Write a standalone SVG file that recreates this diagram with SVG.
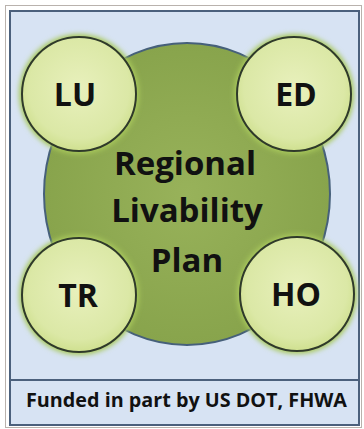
<svg xmlns="http://www.w3.org/2000/svg" width="364" height="429" viewBox="0 0 364 429">
<defs>
<radialGradient id="small" cx="50%" cy="45%" r="55%">
<stop offset="0%" stop-color="#e8f0bc"/>
<stop offset="80%" stop-color="#dbe8a6"/>
<stop offset="100%" stop-color="#cfe08f"/>
</radialGradient>
<radialGradient id="big" cx="50%" cy="50%" r="50%">
<stop offset="0%" stop-color="#98b25a"/>
<stop offset="100%" stop-color="#88a44c"/>
</radialGradient>
<filter id="glow" x="-20%" y="-20%" width="140%" height="140%">
<feGaussianBlur stdDeviation="2.5"/>
</filter>
</defs>
<style>
.lbl{font-family:"Open Sans","Liberation Sans",sans-serif;font-weight:bold;fill:#111;text-anchor:middle}
.ring{fill:url(#small);stroke:#2f3a2a;stroke-width:2}
.halo{fill:#a9c95c;filter:url(#glow)}
</style>
<rect x="0" y="0" width="364" height="429" fill="#ffffff"/>
<rect x="5.5" y="5.5" width="356" height="422" fill="none" stroke="#b9b2ad" stroke-width="1"/>
<rect x="10" y="11" width="349" height="414" fill="#d7e3f3" stroke="#4b607c" stroke-width="2"/>
<line x1="10" y1="380" x2="359" y2="380" stroke="#4b607c" stroke-width="2"/>
<g id="connectors"></g>
<g id="plan">
<ellipse cx="187" cy="194" rx="143" ry="151" fill="url(#big)" stroke="#46607a" stroke-width="2"/>
<text class="lbl" x="185" y="175" font-size="33">Regional</text>
<text class="lbl" x="187" y="222" font-size="33">Livability</text>
<text class="lbl" x="187" y="272" font-size="33">Plan</text>
</g>
<g id="LU">
<circle class="halo" cx="79" cy="94" r="60"/>
<circle class="ring" cx="79" cy="94" r="57"/>
<text class="lbl" x="75" y="106" font-size="32">LU</text>
</g>
<g id="ED">
<circle class="halo" cx="294" cy="94" r="60"/>
<circle class="ring" cx="294" cy="94" r="57"/>
<text class="lbl" x="296" y="106" font-size="32">ED</text>
</g>
<g id="TR">
<circle class="halo" cx="79" cy="295" r="60"/>
<circle class="ring" cx="79" cy="295" r="57"/>
<text class="lbl" x="78" y="307" font-size="32">TR</text>
</g>
<g id="HO">
<circle class="halo" cx="297" cy="294" r="60"/>
<circle class="ring" cx="297" cy="294" r="57"/>
<text class="lbl" x="296" y="306" font-size="32">HO</text>
</g>
<g id="footer">
<text class="lbl" x="186.5" y="407" font-size="19" textLength="321" lengthAdjust="spacingAndGlyphs">Funded in part by US DOT, FHWA</text>
</g>
</svg>
